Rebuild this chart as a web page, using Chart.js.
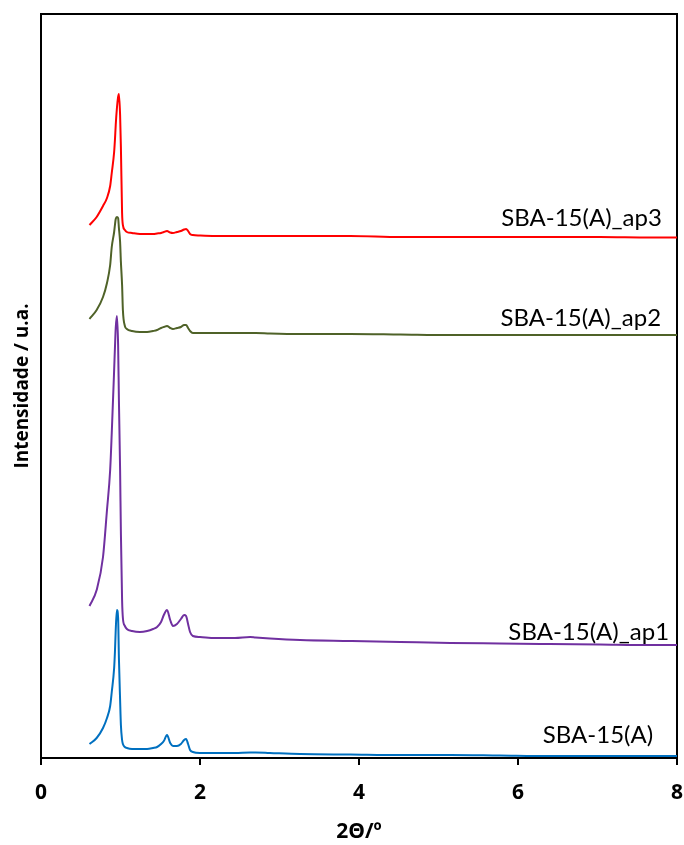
<!DOCTYPE html>
<html>
<head>
<meta charset="utf-8">
<script src="https://cdn.jsdelivr.net/npm/chart.js@4/dist/chart.umd.min.js"></script>
<style>
  body { margin: 0; background: #fff; }
</style>
</head>
<body>
<canvas id="graficoDRX" width="684" height="845"></canvas>
<script>
// 2θ (graus)
const twoTheta = [0.61, 0.70, 0.78, 0.83, 0.87, 0.89, 0.92, 0.93, 0.94, 0.955,
  0.97, 0.98, 0.995, 1.005, 1.02, 1.03, 1.055, 1.08, 1.145, 1.245,
  1.335, 1.41, 1.46, 1.51, 1.545, 1.585, 1.625, 1.66, 1.71, 1.76,
  1.80, 1.825, 1.85, 1.875, 1.91, 2.00, 2.19, 2.44, 2.63, 2.70,
  2.88, 3.26, 3.89, 4.52, 5.15, 5.77, 6.40, 7.03, 7.66, 8.00];

// intensidades (u.a., já deslocadas)
const sba15 = [14, 20, 30, 40, 52, 66, 90, 106, 128, 148,
  140, 100, 58, 33, 18, 14, 11, 10, 9, 9,
  9, 10, 11, 14, 17, 23, 15, 12, 12, 14,
  18, 19, 14, 8, 6, 5, 5, 5, 5.5, 5.5,
  5, 4, 3.5, 3, 3, 2.5, 2, 2, 2, 2];
const sba15ap1 = [152, 168, 201, 248, 288, 325, 388, 410, 430, 442,
  413, 358, 288, 225, 158, 140, 132, 129, 127, 126,
  127, 129, 131, 136, 143, 148, 138, 132, 134, 139,
  143, 142, 134, 126, 122, 121, 120, 120, 121, 120.5,
  119.5, 118, 117, 116, 115, 114.5, 114, 113.5, 113, 113];
const sba15ap2 = [439, 448, 461, 475, 493, 511, 526, 533, 539, 541,
  540, 530, 516, 496, 473, 448, 432, 429, 427, 426,
  426, 427, 428, 430, 431, 432, 430, 429, 430, 431,
  433, 433, 430, 427, 425, 425, 425, 425, 425, 425,
  424.5, 424, 424, 423.5, 423, 423, 423, 423, 423, 423];
const sba15ap3 = [533, 541, 552, 560, 572, 585, 606, 618, 633, 650,
  661, 664, 643, 611, 545, 533, 528, 526, 525, 524,
  524, 524, 524.5, 525, 526, 527, 525.5, 525, 526, 527,
  528.5, 529, 527, 524, 523, 522.5, 522, 522, 522, 522,
  522, 522, 522, 521, 521, 521, 521, 521, 520.5, 520.5];

const nomes = ["SBA-15(A)", "SBA-15(A)_ap1", "SBA-15(A)_ap2", "SBA-15(A)_ap3"];
const xTicks = [0, 2, 4, 6, 8];

function pontos(ys) {
  return twoTheta.map((x, i) => ({ x: x, y: ys[i] }));
}

const cores = ["#0070C0", "#7030A0", "#4F6228", "#FF0000"];
const series = [sba15, sba15ap1, sba15ap2, sba15ap3];

// posição dos rótulos de cada curva (em unidades dos eixos)
const rotulos = [
  { x: 7.70, y: 15 },
  { x: 7.90, y: 118 },
  { x: 7.80, y: 432 },
  { x: 7.81, y: 532 },
];

const fonteEixo = "'Open Sans'";

const caixa = {
  id: "caixa",
  beforeDatasetsDraw(chart) {
    const a = chart.chartArea;
    const c = chart.ctx;
    c.save();
    c.strokeStyle = "#000";
    c.lineWidth = 2;
    c.strokeRect(a.left, a.top, a.right - a.left, a.bottom - a.top);
    c.restore();
  },
  afterDatasetsDraw(chart) {
    const c = chart.ctx;
    const sx = chart.scales.x, sy = chart.scales.y;
    c.save();
    c.font = "24px Lato";
    c.fillStyle = "#000";
    c.textAlign = "right";
    c.textBaseline = "alphabetic";
    nomes.forEach((n, i) => {
      c.fillText(n, sx.getPixelForValue(rotulos[i].x), sy.getPixelForValue(rotulos[i].y));
    });
    c.restore();
  }
};

new Chart(document.getElementById("graficoDRX").getContext("2d"), {
  type: "line",
  data: {
    datasets: series.map((s, i) => ({
      label: nomes[i],
      data: pontos(s),
      borderColor: cores[i],
      borderWidth: 2,
      pointRadius: 0,
      fill: false,
      cubicInterpolationMode: "monotone",
    })),
  },
  options: {
    responsive: false,
    animation: false,
    layout: { padding: { top: 14, right: 7, left: 0, bottom: 0 } },
    plugins: { legend: { display: false }, tooltip: { enabled: false } },
    scales: {
      x: {
        type: "linear",
        min: 0,
        max: 8,
        afterFit: (s) => { s.height = 87; },
        afterBuildTicks: (s) => { s.ticks = xTicks.map(v => ({ value: v })); },
        border: { display: false },
        grid: { drawOnChartArea: false, drawTicks: true, tickLength: 7, color: "#000", lineWidth: 2 },
        ticks: { color: "#000", font: { family: fonteEixo, size: 21, weight: "bold", lineHeight: 2.62 }, padding: 1, maxRotation: 0 },
        title: { display: true, text: "2Θ/º", color: "#000", font: { family: fonteEixo, size: 21, weight: "bold" }, padding: { top: 0, bottom: 0 } },
      },
      y: {
        min: 0,
        max: 744,
        afterFit: (s) => { s.width = 41; },
        border: { display: false },
        grid: { display: false },
        ticks: { display: false },
        title: { display: true, text: "Intensidade / u.a.", color: "#000", font: { family: fonteEixo, size: 19, weight: "bold" }, padding: { top: 11, bottom: 0 } },
      },
    },
  },
  plugins: [caixa],
});
</script>
</body>
</html>
